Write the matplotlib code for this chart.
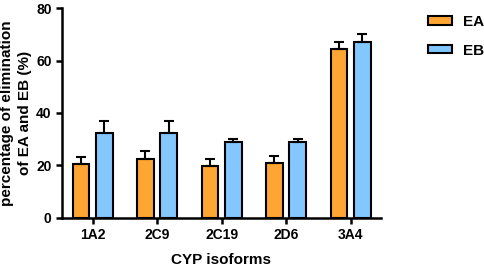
import numpy as np
import matplotlib.pyplot as plt
import matplotlib as mpl

mpl.rcParams["font.family"] = "Liberation Sans"
mpl.rcParams["font.weight"] = "bold"

# data
isoforms = ["1A2", "2C9", "2C19", "2D6", "3A4"]
ea_mean = [20.6, 22.6, 19.9, 20.8, 64.5]
ea_err = [2.5, 2.9, 2.7, 2.9, 2.7]
eb_mean = [32.3, 32.3, 29.0, 28.9, 66.9]
eb_err = [4.7, 4.7, 1.2, 1.3, 3.3]

orange = "#FFA533"
blue = "#82C8FF"

fig = plt.figure(figsize=(4.84, 2.69), dpi=100)
ax = fig.add_axes([0.128, 0.19, 0.659, 0.78])

x = np.arange(len(isoforms))
w = 0.26
off = 0.18
err_kw = dict(ecolor="black", elinewidth=1.5, capsize=3.5, capthick=1.5)
ax.bar(x - off, ea_mean, w, color=orange, edgecolor="black", linewidth=1.5,
       yerr=[np.zeros(len(ea_err)), ea_err], error_kw=err_kw, label="EA")
ax.bar(x + off, eb_mean, w, color=blue, edgecolor="black", linewidth=1.5,
       yerr=[np.zeros(len(eb_err)), eb_err], error_kw=err_kw, label="EB")

ax.set_xlim(-0.475, 4.47)
ax.set_ylim(0, 80)
ax.set_yticks([0, 20, 40, 60, 80])
ax.set_xticks(x)
ax.set_xticklabels(isoforms)
ax.tick_params(axis="both", labelsize=10, width=1.8, length=4, direction="out")
ax.tick_params(axis="x", pad=3)

for axis in ["top", "right"]:
    ax.spines[axis].set_visible(False)
for axis in ["left", "bottom"]:
    ax.spines[axis].set_linewidth(1.8)

ax.set_ylabel("percentage of elimination\nof EA and EB (%)", fontsize=11,
              fontweight="bold", linespacing=1.35, labelpad=3)
ax.set_xlabel("CYP isoforms", fontsize=11, fontweight="bold", labelpad=8)

fig.legend(loc="upper left", bbox_to_anchor=(428 / 484, 1 - 15 / 269),
           frameon=False, fontsize=11, borderpad=0, borderaxespad=0,
           handlelength=1.55, handleheight=0.5, handletextpad=0.75,
           labelspacing=0.95)

fig.savefig("out.png", dpi=100)
